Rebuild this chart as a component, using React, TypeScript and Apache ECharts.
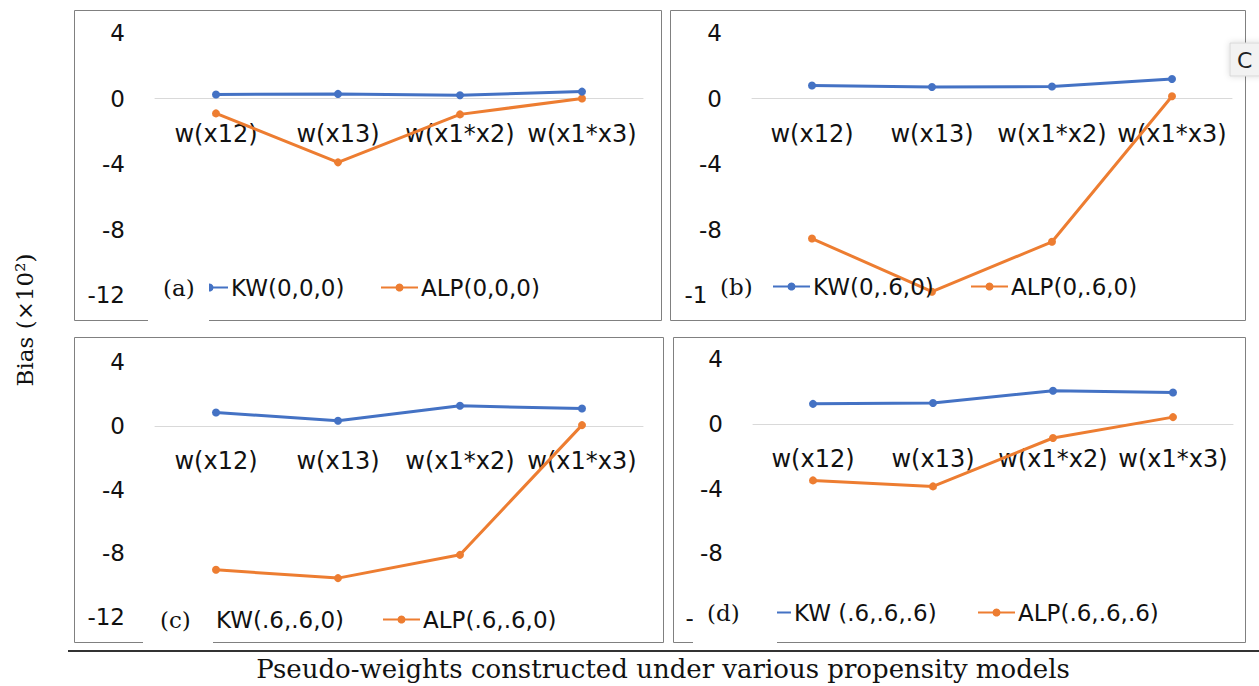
import React, { useEffect, useRef } from "react";
import * as echarts from "echarts";

const categories = ["w(x12)", "w(x13)", "w(x1*x2)", "w(x1*x3)"];
const yTicks = { min: -12, max: 4, interval: 4 };

const kwA = [0.24, 0.28, 0.2, 0.42];
const alpA = [-0.91, -3.9, -0.97, 0.0];
const kwB = [0.79, 0.7, 0.73, 1.19];
const alpB = [-8.55, -11.8, -8.75, 0.14];
const kwC = [0.83, 0.31, 1.25, 1.08];
const alpC = [-9.04, -9.56, -8.1, 0.04];
const kwD = [1.23, 1.28, 2.04, 1.93];
const alpD = [-3.5, -3.87, -0.88, 0.41];

const panelTags = ["(a)", "(b)", "(c)", "(d)"];
const kwNames = ["KW(0,0,0)", "KW(0,.6,0)", "KW(.6,.6,0)", "KW (.6,.6,.6)"];
const alpNames = ["ALP(0,0,0)", "ALP(0,.6,0)", "ALP(.6,.6,0)", "ALP(.6,.6,.6)"];
const kwData = [kwA, kwB, kwC, kwD];
const alpData = [alpA, alpB, alpC, alpD];

const yTitle = "Bias (×10²)";
const xTitle = "Pseudo-weights constructed under various propensity models";

const BLUE = "#4472C4";
const ORANGE = "#ED7D31";
const SANS = "DejaVu Sans";
const SERIF = "DejaVu Serif";

const grids = [
  { left: 155, top: 33, width: 488, height: 262 },
  { left: 752, top: 33, width: 480, height: 262 },
  { left: 155, top: 362, width: 488, height: 255 },
  { left: 753, top: 359, width: 480, height: 259 },
];
const boxes = [
  { x: 74, y: 10, w: 587, h: 310 },
  { x: 670, y: 10, w: 575, h: 310 },
  { x: 74, y: 337, w: 589, h: 305 },
  { x: 673, y: 337, w: 572, h: 305 },
];
const legendPos = [
  { kw: 190, alp: 380, cy: 288 },
  { kw: 772, alp: 970, cy: 287 },
  { kw: 175, alp: 382, cy: 620 },
  { kw: 753, alp: 977, cy: 613 },
];
const tagPos = [
  { x: 163, y: 288, rx: 148, ry: 268, rw: 61, rh: 58 },
  { x: 720, y: 287, rx: 706, ry: 268, rw: 63, rh: 48 },
  { x: 160, y: 620, rx: 143, ry: 596, rw: 70, rh: 50 },
  { x: 707, y: 613, rx: 693, ry: 590, rw: 84, rh: 56 },
];

export default function App() {
  const ref = useRef<HTMLDivElement>(null);
  useEffect(() => {
    if (!ref.current) return;
    const chart = echarts.init(ref.current, undefined, { renderer: "svg" });
    const series: any[] = [];
    const legends: any[] = [];
    for (let i = 0; i < 4; i++) {
      series.push({
        name: kwNames[i],
        type: "line",
        xAxisIndex: i,
        yAxisIndex: i,
        data: kwData[i],
        symbol: "circle",
        symbolSize: 8,
        color: BLUE,
        lineStyle: { width: 3, color: BLUE },
        itemStyle: { color: BLUE },
        clip: false,
        z: 3,
      });
      series.push({
        name: alpNames[i],
        type: "line",
        xAxisIndex: i,
        yAxisIndex: i,
        data: alpData[i],
        symbol: "circle",
        symbolSize: 8,
        color: ORANGE,
        lineStyle: { width: 3, color: ORANGE },
        itemStyle: { color: ORANGE },
        clip: false,
        z: 2,
      });
      const lp = legendPos[i];
      [
        { n: kwNames[i], l: lp.kw },
        { n: alpNames[i], l: lp.alp },
      ].forEach((it) => {
        legends.push({
          data: [it.n],
          left: it.l,
          top: lp.cy - 12,
          padding: 0,
          itemWidth: 37,
          itemHeight: 10,
          itemGap: 0,
          selectedMode: false,
          textStyle: { fontSize: 23, fontFamily: SANS, color: "#111", padding: [0, 0, 0, -2] },
        });
      });
    }
    const graphic: any[] = [];
    boxes.forEach((b) => {
      graphic.push({
        type: "rect",
        shape: { x: b.x + 0.5, y: b.y + 0.5, width: b.w, height: b.h },
        style: { fill: "none", stroke: "#808080", lineWidth: 1 },
        z: 1,
      });
    });
    tagPos.forEach((t, i) => {
      graphic.push({
        type: "rect",
        shape: { x: t.rx, y: t.ry, width: t.rw, height: t.rh },
        style: { fill: "#ffffff" },
        z: 50,
      });
      graphic.push({
        type: "text",
        x: t.x,
        y: t.y,
        style: {
          text: panelTags[i],
          fontFamily: SERIF,
          fontSize: 23,
          fill: "#111",
          verticalAlign: "middle",
          align: "left",
        },
        z: 51,
      });
    });
    graphic.push({
      type: "line",
      shape: { x1: 68, y1: 651, x2: 1259, y2: 651 },
      style: { stroke: "#333", lineWidth: 2 },
      z: 1,
    });
    graphic.push({
      type: "rect",
      shape: { x: 1230, y: 43, width: 32, height: 33 },
      style: { fill: "#f2f2f2", stroke: "#d8d8d8", lineWidth: 1, shadowBlur: 6, shadowColor: "rgba(0,0,0,0.15)" },
      z: 60,
    });
    graphic.push({
      type: "text",
      x: 1237,
      y: 60,
      style: { text: "C", fontFamily: SANS, fontSize: 22, fill: "#222", verticalAlign: "middle", align: "left" },
      z: 61,
    });
    graphic.push({
      type: "text",
      x: 25,
      y: 320,
      rotation: Math.PI / 2,
      style: { text: yTitle, fontFamily: SERIF, fontSize: 23, fill: "#111", align: "center", verticalAlign: "middle" },
      z: 10,
    });
    graphic.push({
      type: "text",
      x: 663,
      y: 669,
      style: { text: xTitle, fontFamily: SERIF, fontSize: 26, fill: "#111", align: "center", verticalAlign: "middle" },
      z: 10,
    });

    const span = yTicks.max - yTicks.min;
    chart.setOption({
      animation: false,
      backgroundColor: "#ffffff",
      grid: grids.map((g) => ({ ...g, containLabel: false })),
      xAxis: grids.map((g, i) => ({
        type: "category",
        gridIndex: i,
        data: categories,
        boundaryGap: true,
        position: "bottom",
        offset: -(g.height * (0 - yTicks.min)) / span,
        axisLine: { show: true, onZero: false, lineStyle: { color: "#d9d9d9", width: 1 } },
        axisTick: { show: false },
        splitLine: { show: false },
        axisLabel: { interval: 0, fontSize: 24, fontFamily: SANS, color: "#111", margin: 23 },
      })),
      yAxis: grids.map((_, i) => ({
        type: "value",
        gridIndex: i,
        min: yTicks.min,
        max: yTicks.max,
        interval: yTicks.interval,
        axisLine: { show: false },
        axisTick: { show: false },
        splitLine: { show: false },
        axisLabel: { fontSize: 23, fontFamily: SANS, color: "#111", margin: 30 },
      })),
      legend: legends,
      series,
      graphic,
    });
    return () => chart.dispose();
  }, []);
  return (
    <div
      ref={ref}
      style={{ position: "fixed", left: 0, top: 0, width: 1259, height: 686, background: "#fff" }}
    />
  );
}
